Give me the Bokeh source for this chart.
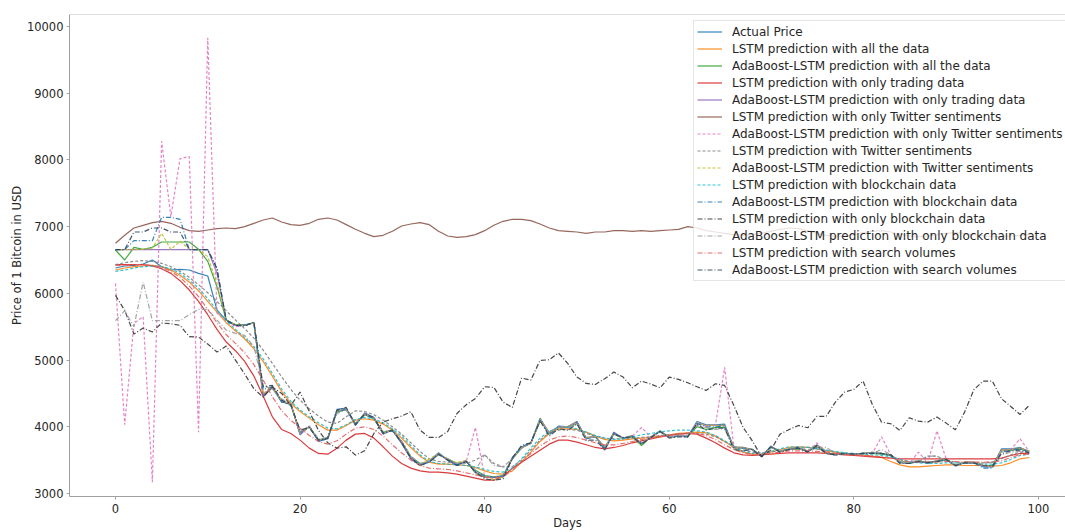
from bokeh.plotting import figure
from bokeh.models import Range1d, FixedTicker, Span
from bokeh.embed import file_html
from bokeh.resources import INLINE

days = list(range(100))
x_ticks = [0, 20, 40, 60, 80, 100]
y_ticks = [3000, 4000, 5000, 6000, 7000, 8000, 9000, 10000]

actual_price = [
    6380, 6410, 6420, 6440, 6500, 6400, 6350, 6360, 6350, 6300,
    6260, 5750, 5600, 5530, 5530, 5560, 4450, 4600, 4370, 4350,
    3880, 4010, 3780, 3820, 4260, 4280, 4020, 4210, 4140, 3890,
    3960, 3750, 3520, 3420, 3480, 3610, 3500, 3420, 3490, 3310,
    3240, 3240, 3250, 3540, 3700, 3750, 4130, 3900, 4010, 4000,
    4080, 3820, 3860, 3650, 3920, 3820, 3870, 3740, 3840, 3940,
    3840, 3860, 3850, 4080, 4030, 4030, 4040, 3680, 3690, 3660,
    3550, 3710, 3630, 3660, 3680, 3630, 3730, 3600, 3580, 3600,
    3590, 3600, 3600, 3600, 3580, 3470, 3450, 3490, 3460, 3490,
    3520, 3410, 3470, 3470, 3400, 3400, 3670, 3670, 3690, 3630]

lstm_all = [
    6350, 6380, 6400, 6410, 6420, 6400, 6350, 6270, 6170, 6040,
    5880, 5720, 5560, 5440, 5320, 5170, 4980, 4760, 4530, 4350,
    4230, 4130, 4030, 3950, 3950, 4020, 4100, 4120, 4100, 4040,
    3950, 3830, 3690, 3560, 3470, 3440, 3440, 3430, 3420, 3390,
    3340, 3300, 3290, 3340, 3470, 3620, 3780, 3900, 3970, 3970,
    3960, 3920, 3860, 3810, 3790, 3800, 3820, 3830, 3840, 3860,
    3880, 3900, 3910, 3920, 3910, 3860, 3780, 3690, 3620, 3590,
    3590, 3620, 3660, 3690, 3700, 3690, 3670, 3640, 3620, 3600,
    3590, 3580, 3560, 3540, 3480, 3430, 3400, 3400, 3410, 3420,
    3430, 3430, 3420, 3420, 3420, 3410, 3420, 3460, 3520, 3540]

ada_all = [
    6650, 6500, 6690, 6660, 6690, 6770, 6770, 6770, 6770, 6660,
    6480, 6100, 5600, 5530, 5520, 5560, 4480, 4580, 4380, 4330,
    3900, 4000, 3800, 3840, 4220, 4260, 4050, 4180, 4120, 3920,
    3940, 3780, 3550, 3450, 3480, 3580, 3520, 3450, 3480, 3350,
    3270, 3250, 3270, 3520, 3680, 3760, 4080, 3920, 3990, 3990,
    4050, 3840, 3850, 3700, 3890, 3830, 3850, 3720, 3850, 3930,
    3850, 3860, 3860, 4000, 3960, 3990, 3990, 3700, 3680, 3660,
    3570, 3690, 3640, 3660, 3670, 3640, 3710, 3610, 3590, 3600,
    3590, 3600, 3600, 3590, 3570, 3480, 3460, 3480, 3470, 3480,
    3500, 3430, 3460, 3460, 3420, 3420, 3640, 3650, 3670, 3630]

lstm_trading = [
    6430, 6430, 6430, 6430, 6410, 6370, 6300, 6190, 6050, 5880,
    5680, 5460, 5270, 5140, 4980, 4760, 4460, 4150, 3960, 3900,
    3800, 3680, 3600, 3590, 3680, 3800, 3890, 3900, 3830, 3700,
    3560, 3450, 3380, 3340, 3320, 3320, 3310, 3290, 3260, 3230,
    3200, 3200, 3260, 3380, 3470, 3560, 3650, 3740, 3800, 3800,
    3770, 3730, 3690, 3670, 3690, 3720, 3760, 3790, 3820, 3850,
    3870, 3890, 3900, 3890, 3830, 3760, 3680, 3610, 3580, 3570,
    3580, 3590, 3600, 3610, 3610, 3610, 3610, 3600, 3590, 3580,
    3570, 3560, 3550, 3540, 3530, 3520, 3520, 3520, 3520, 3520,
    3520, 3520, 3520, 3520, 3520, 3520, 3530, 3570, 3600, 3600]

ada_trading = [
    6655, 6655, 6655, 6655, 6655, 6655, 6655, 6655, 6655, 6655,
    6655, 6300, 5600, 5520, 5520, 5560, 4470, 4600, 4380, 4340,
    3900, 4000, 3790, 3830, 4240, 4270, 4030, 4200, 4130, 3900,
    3950, 3760, 3530, 3430, 3480, 3600, 3500, 3430, 3480, 3320,
    3250, 3240, 3260, 3530, 3690, 3750, 4110, 3910, 4000, 4000,
    4070, 3830, 3860, 3670, 3910, 3830, 3860, 3750, 3840, 3930,
    3850, 3860, 3860, 4060, 4020, 4020, 4020, 3690, 3690, 3660,
    3560, 3700, 3630, 3660, 3680, 3630, 3720, 3600, 3580, 3600,
    3590, 3600, 3600, 3600, 3580, 3470, 3450, 3490, 3460, 3490,
    3510, 3420, 3470, 3460, 3420, 3400, 3650, 3660, 3680, 3630]

lstm_only_twitter = [
    6750, 6870, 6980, 7020, 7060, 7080, 7050, 6990, 6940, 6930,
    6950, 6970, 6980, 6970, 7000, 7050, 7100, 7130, 7070, 7030,
    7020, 7050, 7110, 7130, 7100, 7030, 6960, 6900, 6850, 6870,
    6930, 7010, 7040, 7060, 7030, 6930, 6860, 6840, 6850, 6880,
    6940, 7020, 7080, 7110, 7110, 7090, 7040, 6980, 6940, 6930,
    6920, 6900, 6920, 6920, 6940, 6940, 6930, 6940, 6930, 6940,
    6950, 6960, 7000, 6980, 6940, 6920, 6900, 6880, 6870, 6880,
    6900, 6930, 6960, 6980, 6970, 6940, 6900, 6870, 6850, 6860,
    6880, 6910, 6930, 6940, 6920, 6890, 6860, 6850, 6860, 6880,
    6900, 6910, 6900, 6880, 6860, 6850, 6850, 6860, 6870, 6880]

ada_only_twitter = [
    6150, 4030, 5550, 5650, 3170, 8280, 7150, 8020, 8050, 3920,
    9830, 5700, 5600, 5500, 5520, 5560, 4500, 4580, 4390, 4340,
    3900, 4000, 3800, 3830, 4250, 4260, 4040, 4200, 4130, 3900,
    3950, 3760, 3540, 3430, 3480, 3590, 3500, 3440, 3480, 3990,
    3250, 3230, 3250, 3530, 3690, 3750, 4110, 3910, 4000, 4000,
    4060, 3830, 3860, 3680, 3900, 3830, 3860, 3990, 3840, 3930,
    3840, 3860, 3850, 4050, 4010, 4020, 4890, 3690, 3690, 3660,
    3560, 3700, 3630, 3660, 3680, 3630, 3760, 3600, 3580, 3600,
    3590, 3600, 3600, 3850, 3580, 3470, 3450, 3620, 3460, 3940,
    3520, 3420, 3470, 3470, 3420, 3400, 3640, 3660, 3820, 3630]

lstm_twitter = [
    6430, 6460, 6480, 6490, 6480, 6450, 6400, 6330, 6240, 6130,
    6010, 5880, 5740, 5600, 5470, 5330, 5150, 4950, 4750, 4560,
    4400, 4270, 4160, 4070, 4050, 4150, 4240, 4230, 4180, 4100,
    4000, 3890, 3760, 3630, 3520, 3480, 3470, 3460, 3450, 3500,
    3580, 3450, 3400, 3400, 3500, 3650, 3800, 3910, 3950, 3960,
    3950, 3900, 3860, 3830, 3820, 3820, 3830, 3840, 3850, 3870,
    3880, 3890, 3900, 3900, 3890, 3850, 3780, 3710, 3650, 3620,
    3610, 3620, 3640, 3660, 3670, 3690, 3700, 3650, 3620, 3600,
    3590, 3590, 3620, 3600, 3560, 3510, 3470, 3470, 3560, 3560,
    3500, 3470, 3460, 3460, 3460, 3470, 3520, 3580, 3620, 3620]

ada_twitter = [
    6655, 6655, 6655, 6660, 6680, 6900, 6660, 6780, 6660, 6655,
    6550, 6150, 5600, 5530, 5520, 5560, 4500, 4600, 4390, 4340,
    3920, 3990, 3800, 3830, 4240, 4270, 4040, 4190, 4120, 3900,
    3960, 3780, 3560, 3420, 3520, 3600, 3510, 3460, 3500, 3300,
    3250, 3200, 3250, 3520, 3690, 3750, 4120, 3900, 4000, 4000,
    4060, 3830, 3860, 3680, 3900, 3820, 3870, 3740, 3840, 3940,
    3840, 3860, 3850, 4060, 4020, 4020, 4020, 3690, 3690, 3660,
    3560, 3700, 3630, 3660, 3680, 3640, 3720, 3600, 3580, 3600,
    3590, 3600, 3600, 3600, 3580, 3470, 3450, 3490, 3460, 3490,
    3510, 3420, 3470, 3470, 3420, 3400, 3650, 3660, 3680, 3640]

lstm_blockchain = [
    6330, 6350, 6380, 6400, 6410, 6400, 6370, 6300, 6200, 6080,
    5920, 5750, 5590, 5460, 5340, 5200, 5020, 4800, 4570, 4380,
    4250, 4150, 4060, 3980, 3970, 4030, 4110, 4140, 4120, 4060,
    3970, 3860, 3720, 3580, 3480, 3450, 3440, 3430, 3420, 3400,
    3360, 3330, 3320, 3380, 3520, 3680, 3830, 3930, 3990, 3990,
    3970, 3920, 3870, 3830, 3810, 3820, 3850, 3880, 3900, 3920,
    3940, 3950, 3950, 3940, 3920, 3870, 3790, 3700, 3630, 3600,
    3600, 3630, 3670, 3700, 3700, 3690, 3670, 3650, 3630, 3610,
    3600, 3590, 3580, 3570, 3550, 3510, 3480, 3460, 3450, 3450,
    3460, 3460, 3450, 3450, 3440, 3440, 3460, 3510, 3570, 3590]

ada_blockchain = [
    6655, 6655, 6790, 6790, 6790, 7140, 7140, 7110, 6655, 6655,
    6655, 6370, 5590, 5520, 5520, 5560, 4560, 4600, 4380, 4320,
    3920, 4000, 3790, 3820, 4230, 4260, 4040, 4190, 4120, 3910,
    3940, 3760, 3540, 3430, 3470, 3590, 3510, 3430, 3480, 3330,
    3260, 3240, 3260, 3520, 3700, 3760, 4100, 3880, 4000, 3990,
    4060, 3820, 3850, 3680, 3900, 3830, 3860, 3750, 3840, 3930,
    3840, 3860, 3850, 4050, 4000, 4000, 4010, 3690, 3680, 3660,
    3560, 3700, 3630, 3670, 3690, 3630, 3690, 3610, 3580, 3600,
    3590, 3600, 3600, 3600, 3570, 3460, 3450, 3480, 3460, 3480,
    3510, 3420, 3460, 3460, 3380, 3380, 3620, 3650, 3670, 3620]

lstm_only_blockchain = [
    5970, 5745, 5390, 5480, 5420, 5555, 5545, 5520, 5350, 5345,
    5240, 5120, 5210, 5000, 4790, 4570, 4445, 4595, 4500, 4320,
    4520, 4230, 3945, 3760, 3680, 3700, 3575, 3640, 3900, 4070,
    4120, 4160, 4225, 3950, 3840, 3840, 3930, 4200, 4330, 4425,
    4600, 4590, 4370, 4290, 4730, 4700, 4995, 5005, 5105, 4950,
    4745, 4650, 4635, 4720, 4820, 4745, 4585, 4685, 4640, 4585,
    4745, 4710, 4660, 4600, 4545, 4645, 4620, 4320, 3990, 3790,
    3550, 3650, 3890, 3960, 4020, 3985, 4155, 4155, 4370, 4520,
    4560, 4685, 4335, 4070, 4045, 3945, 4135, 4085, 4070, 4145,
    4055, 3955, 4220, 4555, 4685, 4685, 4420, 4305, 4185, 4320]

ada_only_blockchain = [
    5590, 5740, 5500, 6170, 5590, 5590, 5590, 5590, 5680, 5760,
    5760, 5600, 5450, 5400, 5370, 5200, 4620, 4560, 4420, 4330,
    3930, 4010, 3820, 3830, 4200, 4250, 4050, 4190, 4130, 3930,
    3950, 3790, 3560, 3450, 3480, 3590, 3520, 3450, 3490, 3350,
    3580, 3420, 3400, 3520, 3680, 3760, 4080, 3920, 3990, 3990,
    4050, 3830, 3850, 3700, 3890, 3830, 3850, 3750, 3850, 3930,
    3850, 3860, 3860, 4020, 3990, 3960, 3970, 3700, 3670, 3650,
    3580, 3690, 3640, 3660, 3670, 3650, 3690, 3690, 3600, 3590,
    3590, 3600, 3600, 3660, 3580, 3480, 3470, 3500, 3560, 3560,
    3490, 3440, 3460, 3460, 3440, 3470, 3580, 3620, 3630, 3620]

lstm_search = [
    6420, 6420, 6430, 6430, 6420, 6390, 6330, 6240, 6110, 5950,
    5760, 5560, 5380, 5250, 5110, 4930, 4700, 4450, 4240, 4100,
    3980, 3870, 3780, 3740, 3790, 3890, 3980, 4000, 3960, 3860,
    3730, 3610, 3500, 3420, 3380, 3370, 3360, 3340, 3310, 3280,
    3250, 3230, 3250, 3350, 3480, 3600, 3710, 3800, 3850, 3860,
    3840, 3800, 3760, 3730, 3730, 3750, 3780, 3810, 3830, 3850,
    3870, 3890, 3900, 3900, 3870, 3810, 3730, 3660, 3610, 3590,
    3590, 3600, 3620, 3640, 3640, 3640, 3630, 3620, 3600, 3590,
    3580, 3570, 3560, 3550, 3530, 3500, 3480, 3470, 3470, 3470,
    3480, 3480, 3470, 3470, 3470, 3470, 3490, 3540, 3580, 3590]

ada_search = [
    6655, 6655, 6920, 6920, 6980, 6980, 6920, 6920, 6655, 6655,
    6655, 6370, 5600, 5520, 5510, 5570, 4600, 4620, 4400, 4330,
    3950, 3990, 3800, 3830, 4250, 4290, 4030, 4190, 4140, 3900,
    3950, 3770, 3530, 3420, 3470, 3590, 3500, 3420, 3480, 3320,
    3220, 3200, 3220, 3530, 3720, 3760, 4090, 3860, 3970, 3950,
    4040, 3800, 3800, 3660, 3890, 3840, 3850, 3740, 3840, 3930,
    3830, 3850, 3850, 4040, 3950, 3980, 3980, 3660, 3640, 3660,
    3550, 3700, 3620, 3660, 3680, 3620, 3720, 3600, 3580, 3600,
    3590, 3600, 3600, 3600, 3580, 3450, 3450, 3480, 3460, 3480,
    3510, 3420, 3460, 3460, 3420, 3410, 3600, 3640, 3650, 3610]

SOLID = "solid"
DASH = "3 2"
DASHDOT = "5 2 1 2"

series = [
    ("Actual Price", actual_price, "#1f77b4", SOLID),
    ("LSTM prediction with all the data", lstm_all, "#ff7f0e", SOLID),
    ("AdaBoost-LSTM prediction with all the data", ada_all, "#2ca02c", SOLID),
    ("LSTM prediction with only trading data", lstm_trading, "#d62728", SOLID),
    ("AdaBoost-LSTM prediction with only trading data", ada_trading, "#9467bd", SOLID),
    ("LSTM prediction with only Twitter sentiments", lstm_only_twitter, "#8c564b", SOLID),
    ("AdaBoost-LSTM prediction with only Twitter sentiments", ada_only_twitter, "#e377c2", DASH),
    ("LSTM prediction with Twitter sentiments", lstm_twitter, "#7f7f7f", DASH),
    ("AdaBoost-LSTM prediction with Twitter sentiments", ada_twitter, "#bcbd22", DASH),
    ("LSTM prediction with blockchain data", lstm_blockchain, "#17becf", DASH),
    ("AdaBoost-LSTM prediction with blockchain data", ada_blockchain, "#1f77b4", DASHDOT),
    ("LSTM prediction with only blockchain data", lstm_only_blockchain, "#333333", DASHDOT),
    ("AdaBoost-LSTM prediction with only blockchain data", ada_only_blockchain, "#999999", DASHDOT),
    ("LSTM prediction with search volumes", lstm_search, "#e0605f", DASHDOT),
    ("AdaBoost-LSTM prediction with search volumes", ada_search, "#2f4558", DASHDOT),
]

p = figure(width=1065, height=532,
           x_range=Range1d(-4.98, 102.93), y_range=Range1d(2955, 10180),
           output_backend="svg", toolbar_location=None)
p.min_border_left = 69
p.min_border_right = 0
p.min_border_top = 14
p.min_border_bottom = 0
p.outline_line_color = None
p.xgrid.visible = False
p.ygrid.visible = False

for name, vals, color, dash in series:
    p.line(days, vals, line_color=color, line_dash=dash, line_width=1.2,
           line_alpha=0.9, legend_label=name)

p.add_layout(Span(location=10180, dimension="width", line_color="#c0c0c0", line_width=1))

p.xaxis.ticker = FixedTicker(ticks=x_ticks)
p.yaxis.ticker = FixedTicker(ticks=y_ticks)
for ax in (p.xaxis[0], p.yaxis[0]):
    ax.axis_line_color = "#a0a0a0"
    ax.major_tick_line_color = "#a0a0a0"
    ax.major_tick_out = 3
    ax.major_tick_in = 0
    ax.minor_tick_line_color = None
    ax.major_label_text_font = "DejaVu Sans"
    ax.major_label_text_font_size = "11.5px"
    ax.major_label_text_color = "#262626"
    ax.axis_label_text_font = "DejaVu Sans"
    ax.axis_label_text_font_size = "11.5px"
    ax.axis_label_text_font_style = "normal"
    ax.axis_label_text_color = "#262626"
p.xaxis.axis_label = "Days"
p.yaxis.axis_label = "Price of 1 Bitcoin in USD"
p.xaxis.major_label_standoff = 4
p.xaxis.axis_label_standoff = 0
p.yaxis.major_label_standoff = 3
p.yaxis.axis_label_standoff = 0

lg = p.legend[0]
lg.location = (624, 215)
lg.padding = 3
lg.spacing = 2
lg.label_height = 15
lg.glyph_height = 15
lg.glyph_width = 25
lg.label_standoff = 10
lg.label_text_font = "DejaVu Sans"
lg.label_text_font_size = "12px"
lg.label_text_color = "#262626"
lg.border_line_color = "#cccccc"
lg.background_fill_alpha = 0.8

open("out.html", "w").write(file_html(p, INLINE))
